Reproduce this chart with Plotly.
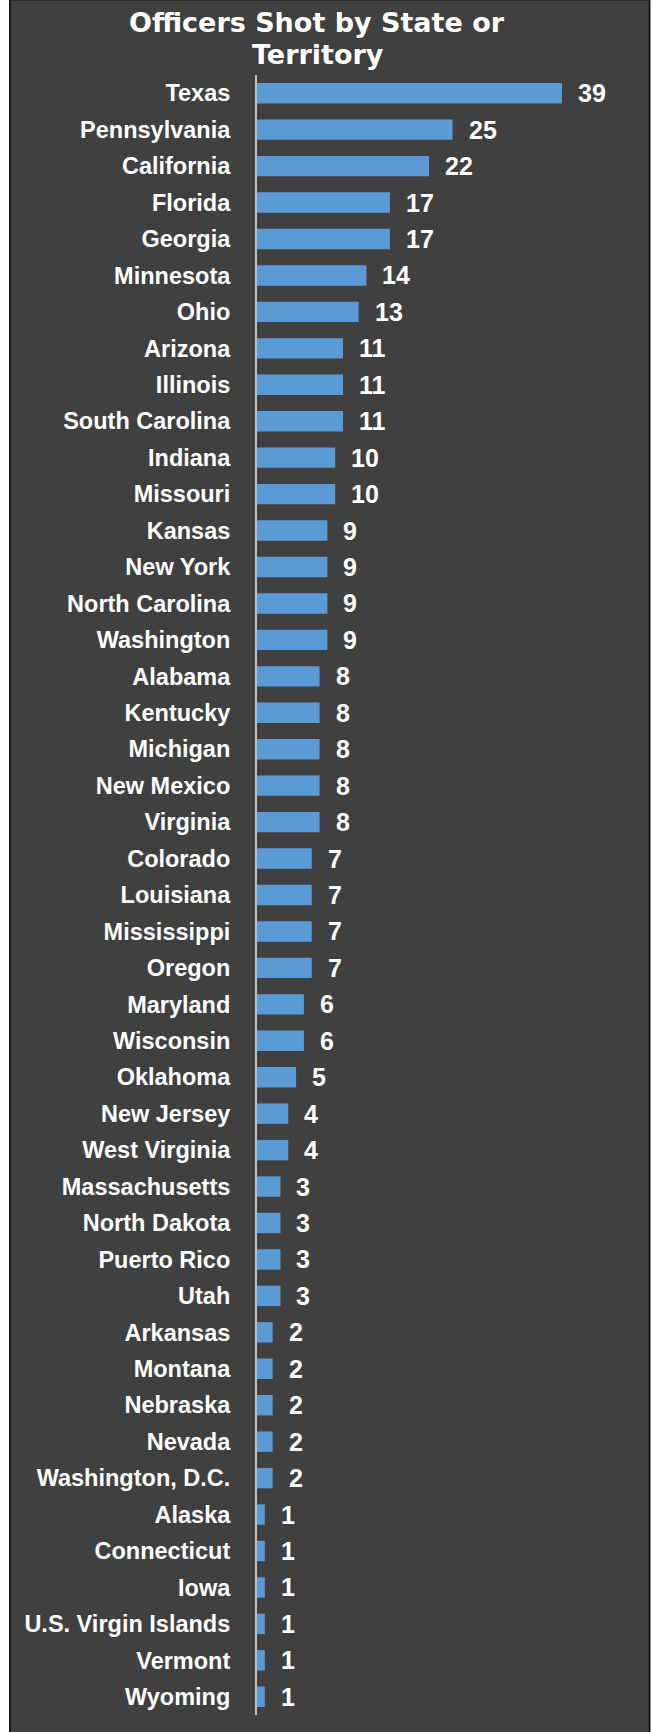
import plotly.graph_objects as go

states = ["Texas", "Pennsylvania", "California", "Florida", "Georgia", "Minnesota", "Ohio",
          "Arizona", "Illinois", "South Carolina", "Indiana", "Missouri", "Kansas", "New York",
          "North Carolina", "Washington", "Alabama", "Kentucky", "Michigan", "New Mexico",
          "Virginia", "Colorado", "Louisiana", "Mississippi", "Oregon", "Maryland", "Wisconsin",
          "Oklahoma", "New Jersey", "West Virginia", "Massachusetts", "North Dakota",
          "Puerto Rico", "Utah", "Arkansas", "Montana", "Nebraska", "Nevada",
          "Washington, D.C.", "Alaska", "Connecticut", "Iowa", "U.S. Virgin Islands",
          "Vermont", "Wyoming"]
officers = [39, 25, 22, 17, 17, 14, 13, 11, 11, 11, 10, 10, 9, 9, 9, 9, 8, 8, 8, 8, 8,
            7, 7, 7, 7, 6, 6, 5, 4, 4, 3, 3, 3, 3, 2, 2, 2, 2, 2, 1, 1, 1, 1, 1, 1]
title_lines = ["Officers Shot by State or", "Territory"]

W, H = 653, 1732
L, R, T, B = 257, 44, 75, 17
pw = W - L - R
ph = H - T - B
XMAX = pw / 7.82

def px_x(p):
    return (p - L) / pw

def px_y(p):
    return (H - B - p) / ph

fig = go.Figure()
fig.add_trace(go.Bar(
    x=officers, y=states, orientation="h",
    marker=dict(color="#5B9BD5", line=dict(width=0)),
    hoverinfo="x+y",
))

for s, v in zip(states, officers):
    fig.add_annotation(x=v, y=s, xref="x", yref="y", text=str(v), showarrow=False,
                       xanchor="left", yanchor="middle", xshift=14,
                       font=dict(family="Liberation Sans", size=25, color="white", weight="bold"))

title_pos = [(317, 23), (318, 55)]
for line, (tx, ty) in zip(title_lines, title_pos):
    fig.add_annotation(x=px_x(tx), y=px_y(ty), xref="paper", yref="paper", text=line,
                       showarrow=False, xanchor="center", yanchor="middle",
                       font=dict(family="DejaVu Sans", size=27, color="white", weight="bold"))

fig.add_shape(type="rect", xref="paper", yref="paper",
              x0=px_x(10), x1=px_x(649.5), y0=px_y(1745), y1=px_y(-0.5),
              fillcolor="#404040", line=dict(color="#1a1a1a", width=2), layer="below")

fig.update_layout(
    width=W, height=H,
    margin=dict(l=L, r=R, t=T, b=B),
    paper_bgcolor="white",
    plot_bgcolor="rgba(0,0,0,0)",
    bargap=0.44,
    showlegend=False,
    xaxis=dict(range=[0, XMAX], showgrid=False, zeroline=False, showticklabels=False,
               showline=False, fixedrange=True),
    yaxis=dict(categoryorder="array", categoryarray=states, autorange="reversed",
               showgrid=False, zeroline=False, showline=True, linecolor="#BFBFBF",
               linewidth=2, ticks="", ticklabelstandoff=20, automargin=False,
               tickfont=dict(family="Liberation Sans", size=23.5, color="white", weight="bold")),
)

post = (
    "var s=document.createElement('style');"
    "s.innerHTML='html,body{margin:0;padding:0;overflow:hidden;}"
    "::-webkit-scrollbar{display:none;width:0;height:0;}';"
    "document.head.appendChild(s);"
)
fig.write_html("out.html", config={"displayModeBar": False}, post_script=post)
